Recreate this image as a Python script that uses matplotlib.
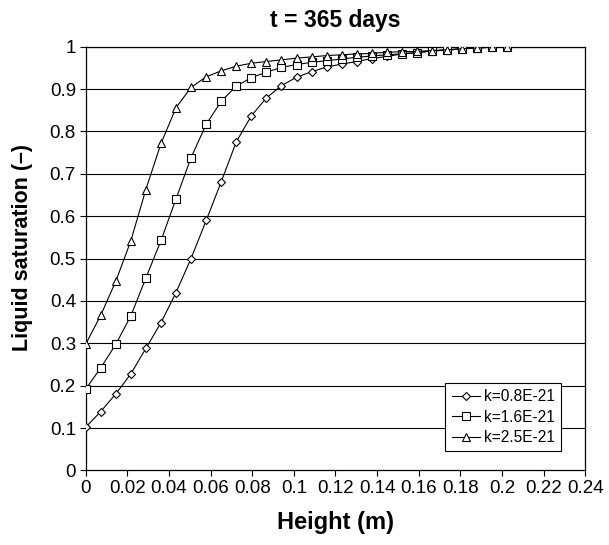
import matplotlib
matplotlib.use("Agg")
import matplotlib.pyplot as plt

plt.rcParams['font.family'] = ['Liberation Sans', 'DejaVu Sans']

# Height (m) of each node
heights = [0.0, 0.0072, 0.0145, 0.0217, 0.0289, 0.0362, 0.0434, 0.0506, 0.0579,
           0.0651, 0.0723, 0.0796, 0.0868, 0.0940, 0.1013, 0.1085, 0.1157, 0.1230,
           0.1302, 0.1374, 0.1447, 0.1519, 0.1591, 0.1664, 0.1736, 0.1808, 0.1881,
           0.1953, 0.2025]

satK08 = [0.102, 0.139, 0.181, 0.228, 0.288, 0.349, 0.420, 0.500, 0.590, 0.681,
          0.775, 0.837, 0.879, 0.908, 0.928, 0.941, 0.952, 0.959, 0.965, 0.972,
          0.977, 0.983, 0.986, 0.990, 0.992, 0.995, 0.997, 0.999, 1.000]
satK16 = [0.192, 0.242, 0.298, 0.365, 0.454, 0.543, 0.641, 0.738, 0.817, 0.871,
          0.907, 0.927, 0.940, 0.951, 0.958, 0.963, 0.967, 0.971, 0.975, 0.978,
          0.981, 0.983, 0.986, 0.990, 0.992, 0.995, 0.997, 0.999, 1.000]
satK25 = [0.298, 0.366, 0.447, 0.542, 0.663, 0.772, 0.856, 0.904, 0.929, 0.943,
          0.954, 0.961, 0.965, 0.969, 0.973, 0.976, 0.979, 0.981, 0.983, 0.984,
          0.987, 0.988, 0.989, 0.991, 0.993, 0.995, 0.997, 0.999, 1.000]

seriesLabels = ["k=0.8E-21", "k=1.6E-21", "k=2.5E-21"]
xTicks = [0, 0.02, 0.04, 0.06, 0.08, 0.1, 0.12, 0.14, 0.16, 0.18, 0.2, 0.22, 0.24]
yTicks = [0, 0.1, 0.2, 0.3, 0.4, 0.5, 0.6, 0.7, 0.8, 0.9, 1]

fig = plt.figure(figsize=(6.09, 5.45), dpi=100)
ax = fig.add_axes([0.1407, 0.1367, 0.8203, 0.7776])

# horizontal grid lines
for yv in yTicks[1:]:
    ax.axhline(yv, color='black', linewidth=0.8, zorder=1)

styles = [('D', 4.4), ('s', 5.4), ('^', 5.8)]
for sat, label, (mk, ms) in zip([satK08, satK16, satK25], seriesLabels, styles):
    ax.plot(heights, sat, marker=mk, markersize=ms, color='black', linewidth=0.8,
            markerfacecolor='white', markeredgecolor='black', markeredgewidth=0.8,
            label=label, zorder=3)

ax.set_xlim(0, 0.24)
ax.set_ylim(0, 1)
ax.set_xticks(xTicks)
ax.set_xticklabels([f"{v:g}" for v in xTicks])
ax.set_yticks(yTicks)
ax.set_yticklabels([f"{v:g}" for v in yTicks])
ax.tick_params(direction='out', length=4, width=0.8, labelsize=13.5, pad=3)
for sp in ax.spines.values():
    sp.set_linewidth(0.9)

ax.set_title("t = 365 days", fontsize=16.5, fontweight='bold', pad=14)
ax.set_xlabel("Height (m)", fontsize=17, fontweight='bold', labelpad=10)
ax.set_ylabel("Liquid saturation (\u2013)", fontsize=15.5, fontweight='bold')
ax.yaxis.set_label_coords(-0.106, 0.526)

leg = ax.legend(loc='lower right', bbox_to_anchor=(0.968, 0.027), fontsize=11.2,
                frameon=True, fancybox=False, edgecolor='black', framealpha=1,
                handlelength=1.8, handletextpad=0.3, borderpad=0.4, labelspacing=0.35)
leg.get_frame().set_linewidth(0.8)

fig.savefig("out.png", dpi=100)
